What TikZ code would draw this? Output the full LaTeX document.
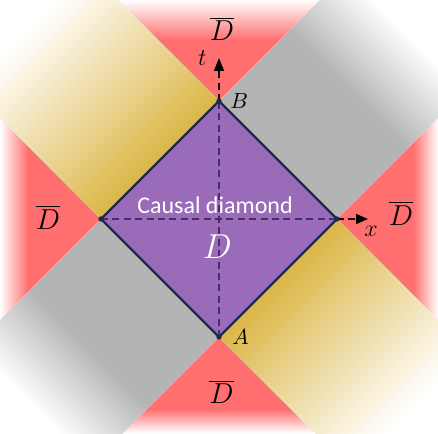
\documentclass[tikz,border=0pt]{standalone}
\usepackage{fontspec}
\newfontfamily\calfont{Carlito}
\usetikzlibrary{arrows.meta, positioning, fadings}

\definecolor{diamondfill}{HTML}{9A6BB8}
\definecolor{edgeblue}{HTML}{1D2B4B}
\definecolor{axispurple}{HTML}{4B2A6B}
\definecolor{redzone}{HTML}{FF6F6F}
\definecolor{golddark}{HTML}{DBB646}
\definecolor{goldlight}{HTML}{FCE28F}
\definecolor{grayzone}{HTML}{B4B4B4}

\tikzset{
  dbar/.style={font=\fontsize{14}{16}\selectfont, inner sep=1pt},
  ptlabel/.style={font=\fontsize{11}{13}\selectfont, inner sep=1pt},
  axislabel/.style={font=\fontsize{12.5}{14}\selectfont, inner sep=1pt},
  axisline/.style={dash pattern=on 3.5pt off 2.2pt, line width=0.75pt},
  edgeline/.style={draw=edgeblue, line width=1.15pt, line join=miter},
}

\begin{document}
\begin{tikzpicture}[x=0.5pt, y=0.5pt]
  \useasboundingbox (-219,-214) rectangle (219,219);
  \begin{scope}
    \clip (-219,-214) rectangle (219,219);

    % red wedges, fading out at the frame
    \fill[redzone] (-219,-214) rectangle (219,219);
    \fill[white, path fading=south] (-219,179) rectangle (219,219);
    \fill[white, path fading=north] (-219,-214) rectangle (219,-190);
    \fill[white, path fading=east] (-219,-214) rectangle (-191,219);
    \fill[white, path fading=west] (194,-214) rectangle (219,219);

    % bands, in the light-cone frame
    \begin{scope}[transform canvas={rotate=45}]
      % yellow bands
      \fill[white] (-83.44,83.44) rectangle (83.44,420);
      \shade[bottom color=golddark, middle color=goldlight, top color=white]
        (-83.44,83.44) rectangle (83.44,270);
      \fill[white] (-83.44,-420) rectangle (83.44,-83.44);
      \shade[top color=golddark, middle color=goldlight, bottom color=white]
        (-83.44,-270) rectangle (83.44,-83.44);
      % gray bands
      \fill[white] (83.44,-83.44) rectangle (420,83.44);
      \fill[grayzone] (83.44,-83.44) rectangle (185,83.44);
      \shade[left color=grayzone, right color=white] (182,-83.44) rectangle (265,83.44);
      \fill[white] (-420,-83.44) rectangle (-83.44,83.44);
      \fill[grayzone] (-185,-83.44) rectangle (-83.44,83.44);
      \shade[right color=grayzone, left color=white] (-265,-83.44) rectangle (-182,83.44);
    \end{scope}
  \end{scope}

  % corners of the diamond and axis ends
  \coordinate (A) at (0,-118);
  \coordinate (B) at (0,118);
  \coordinate (L) at (-118,0);
  \coordinate (R) at (118,0);
  \coordinate (ttip) at (0,161);
  \coordinate (xtip) at (149,0);

  % causal diamond
  \fill[diamondfill] (B) -- (R) -- (A) -- (L) -- cycle;
  \draw[axisline, axispurple] (A) -- (B);
  \draw[axisline, axispurple] (L) -- (R);
  \draw[edgeline] (B) -- (R) -- (A) -- (L) -- cycle;

  % axes
  \draw[axisline, -{Triangle[length=6.5pt, width=5pt]}] (B) -- (ttip);
  \draw[axisline, -{Triangle[length=6pt, width=5pt]}] (R) -- (xtip);

  \foreach \p in {A,B,L,R}
    \fill[edgeblue] (\p) circle (1.35pt);

  % labels
  \node[ptlabel, right=4.5pt of B] (Blabel) {$B$};
  \node[ptlabel, right=5.5pt of A] (Alabel) {$A$};
  \node[axislabel, left=5pt of ttip] (tlabel) {$t$};
  \node[axislabel, below=2.5pt of xtip, xshift=1.5pt] (xlabel) {$x$};

  \node[text=white, font=\calfont\fontsize{12}{14}\selectfont] (cdlabel) at (-4,14) {Causal diamond};
  \node[text=white, font=\fontsize{19}{22}\selectfont] (Dlabel) at (-1.5,-27.5) {$D$};

  \node[dbar] (Dtop) at (3,190) {$\overline{D}$};
  \node[dbar] (Dleft) at (-171,1.5) {$\overline{D}$};
  \node[dbar] (Dright) at (182,5.5) {$\overline{D}$};
  \node[dbar] (Dbottom) at (2.5,-173) {$\overline{D}$};
\end{tikzpicture}
\end{document}
